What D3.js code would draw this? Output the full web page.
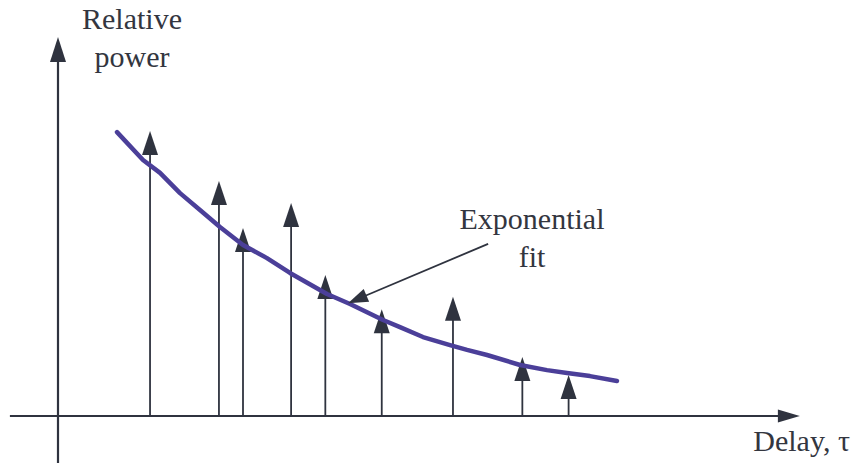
<!DOCTYPE html>
<html>
<head>
<meta charset="utf-8">
<script src="https://cdn.jsdelivr.net/npm/d3@7"></script>
<style>
  body { margin: 0; background: #fff; }
  text { font-family: 'Liberation Serif', 'DejaVu Serif', serif; fill: #33363f; }
</style>
</head>
<body>
<div id="chart"></div>
<script>
// multipath components: delay (arbitrary units) and relative power
var delays = [0.995, 1.74, 2.0, 2.52, 2.89, 3.50, 4.27, 5.02, 5.52];
var powers = [1.0, 0.825, 0.66, 0.747, 0.495, 0.375, 0.418, 0.207, 0.144];

// hand drawn exponential fit
var fitX = [0.638, 0.919, 1.103, 1.319, 1.535, 1.751, 2.0, 2.259, 2.508, 2.908, 3.157,
            3.514, 3.697, 3.946, 4.238, 4.422, 4.638, 4.995, 5.286, 5.503, 5.751, 6.043];
var fitY = [0.996, 0.898, 0.853, 0.782, 0.723, 0.663, 0.600, 0.554, 0.502, 0.428, 0.393,
            0.337, 0.312, 0.277, 0.249, 0.232, 0.214, 0.179, 0.161, 0.151, 0.140, 0.123];

var yLabel = ["Relative", "power"];
var xLabel = "Delay, \u03c4";
var fitLabel = ["Exponential", "fit"];

var width = 855;
var height = 463;
var ink = "#2f333f";
var purple = "#4b3f99";
var serif = "'Liberation Serif', 'DejaVu Serif', serif";

/* Scale */
var xScale = d3.scaleLinear().domain([0, 8]).range([58, 798]);
var yScale = d3.scaleLinear().domain([0, 1]).range([416, 131]);

var svg = d3.select("#chart").append("svg")
  .attr("width", width)
  .attr("height", height);

function arrowHead(g, tx, ty, angle, len, half) {
  // tip at (tx,ty), pointing in direction angle (radians)
  var ca = Math.cos(angle), sa = Math.sin(angle);
  var bx = tx - ca * len, by = ty - sa * len;
  var pts = [[tx, ty], [bx - sa * half, by + ca * half], [bx + sa * half, by - ca * half]];
  g.append("path")
    .attr("d", "M" + pts.join("L") + "Z")
    .attr("fill", ink);
}

/* Axes */
var axes = svg.append("g").attr("class", "axes");
var x0 = xScale(0), y0 = yScale(0);
var xEnd = xScale(8.02), yTop = yScale(1.33);

axes.append("line")
  .attr("x1", xScale(-0.52)).attr("x2", xEnd - 20)
  .attr("y1", y0).attr("y2", y0)
  .attr("stroke", ink).attr("stroke-width", 2.2);
arrowHead(axes, xEnd, y0, 0, 22, 6.5);

axes.append("line")
  .attr("x1", x0).attr("x2", x0)
  .attr("y1", yScale(-0.17)).attr("y2", yTop + 22)
  .attr("stroke", ink).attr("stroke-width", 2.2);
arrowHead(axes, x0, yTop, -Math.PI / 2, 25, 8);

/* Stems */
var stems = svg.append("g").attr("class", "stems");
delays.forEach(function(d, i) {
  var sx = xScale(d), sy = yScale(powers[i]);
  stems.append("line")
    .attr("x1", sx).attr("x2", sx)
    .attr("y1", y0).attr("y2", sy + 20)
    .attr("stroke", ink).attr("stroke-width", 1.8);
  arrowHead(stems, sx, sy, -Math.PI / 2, 24, 8);
});

/* Exponential fit curve */
var line = d3.line()
  .x(function(d, i) { return xScale(d); })
  .y(function(d, i) { return yScale(fitY[i]); });

svg.append("path")
  .attr("d", line(fitX))
  .attr("fill", "none")
  .attr("stroke", purple)
  .attr("stroke-width", 4.5)
  .attr("stroke-linecap", "round")
  .attr("stroke-linejoin", "round");

/* Annotation */
var ann = svg.append("g").attr("class", "annotation");
var ax1 = xScale(4.65), ay1 = yScale(0.604);
var ax2 = xScale(3.135), ay2 = yScale(0.396);
ann.append("line")
  .attr("x1", ax1).attr("y1", ay1)
  .attr("x2", ax2 + (ax1 - ax2) * 0.12).attr("y2", ay2 + (ay1 - ay2) * 0.12)
  .attr("stroke", ink).attr("stroke-width", 1.8);
arrowHead(ann, ax2, ay2, Math.atan2(ay2 - ay1, ax2 - ax1), 20, 7);

ann.selectAll("text")
  .data(fitLabel).enter()
  .append("text")
  .attr("x", 532)
  .attr("y", (d, i) => 229 + i * 38)
  .attr("text-anchor", "middle")
  .attr("font-family", serif)
  .attr("font-size", 30)
  .text(d => d);

/* Axis labels */
svg.append("g").selectAll("text")
  .data(yLabel).enter()
  .append("text")
  .attr("x", 132)
  .attr("y", (d, i) => 29 + i * 38)
  .attr("text-anchor", "middle")
  .attr("font-family", serif)
  .attr("font-size", 30)
  .text(d => d);

svg.append("text")
  .attr("x", 850)
  .attr("y", 451)
  .attr("text-anchor", "end")
  .attr("font-family", serif)
  .attr("font-size", 30)
  .text(xLabel);
</script>
</body>
</html>
